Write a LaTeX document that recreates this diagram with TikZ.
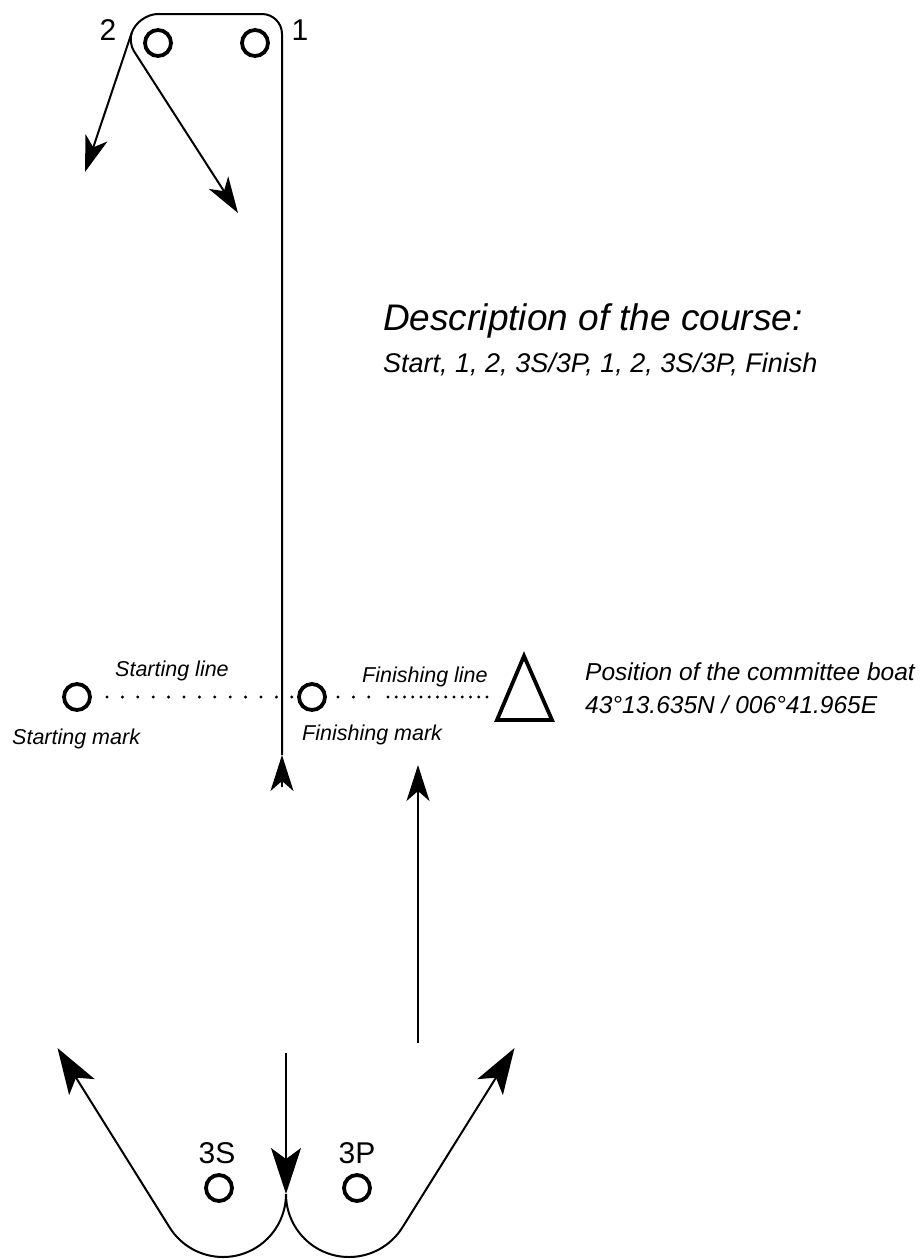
\documentclass[tikz,border=0pt]{standalone}
\usepackage{fontspec}
\setmainfont{Liberation Sans}
\usepackage{tikz}
\usetikzlibrary{arrows.meta}
\tikzstyle{buoy} = [draw, circle, line width=3.8pt, minimum size=26pt, inner sep=0pt]
\tikzstyle{courseLine} = [line width=2pt]
\tikzstyle{smallArrow} = [-{Stealth[length=36pt,width=23pt,inset=10pt]}]
\tikzstyle{bigArrow} = [-{Stealth[length=46pt,width=30pt,inset=11pt]}]
\tikzstyle{markNumber} = [inner sep=0pt, anchor=base, font=\fontsize{30}{36}\selectfont]
\tikzstyle{noteText} = [inner sep=0pt, anchor=base west, font=\fontsize{21.5}{26}\selectfont\itshape]
\tikzstyle{boatText} = [noteText, font=\fontsize{24.5}{29}\selectfont\itshape]
\tikzstyle{lineDots} = [line width=3.3pt, line cap=round, dash pattern=on 0pt off 15.4pt]
\tikzstyle{denseDots} = [line width=3.3pt, line cap=round, dash pattern=on 0pt off 8.25pt]

\begin{document}
\begin{tikzpicture}[x=1pt,y=1pt]
    \useasboundingbox (0,0) rectangle (922,-1259);
    % marks
    \node[buoy] (mark2) at (158,-43) {};
    \node[buoy] (mark1) at (255,-43) {};
    \node[buoy] (startmark) at (77,-697) {};
    \node[buoy] (finishmark) at (312,-697) {};
    \node[buoy] (markS) at (219,-1188) {};
    \node[buoy] (markP) at (357,-1188) {};
    \node[markNumber] (num2) at (108,-40) {2};
    \node[markNumber] (num1) at (300,-40) {1};
    \node[markNumber] (numS) at (217,-1163) {3S};
    \node[markNumber] (numP) at (357,-1163) {3P};
    % texts
    \node[noteText, font=\fontsize{37}{44}\selectfont\itshape] (title) at (383,-330) {Description of the course:};
    \node[noteText, font=\fontsize{27}{32}\selectfont\itshape] (course) at (383,-372) {Start, 1, 2, 3S/3P, 1, 2, 3S/3P, Finish};
    \node[noteText] (startline) at (115,-676) {Starting line};
    \node[noteText] (startlabel) at (12,-744) {Starting mark};
    \node[noteText] (finishline) at (362,-682) {Finishing line};
    \node[noteText] (finishlabel) at (302,-740) {Finishing mark};
    \node[boatText] (boatpos) at (585,-680) {Position of the committee boat};
    \node[boatText] (boatgps) at (585,-713) {43°13.635N / 006°41.965E};
    % committee boat
    \coordinate (boatTop) at (524,-656);
    \coordinate (boatLeft) at (497,-720);
    \coordinate (boatRight) at (552,-720);
    \draw[line width=3.8pt] (boatTop) -- (boatRight) -- (boatLeft) -- cycle;
    % start and finish lines
    \coordinate (finA) at (388,-697);
    \coordinate (finB) at (487.5,-697);
    \draw[lineDots, shorten <=15.1pt, shorten >=4.6pt] (startmark) -- (finishmark);
    \draw[lineDots, shorten <=11.1pt, shorten >=18.5pt] (finishmark) -- (finA);
    \draw[denseDots] (finA) -- (finB);
    % upwind legs
    \coordinate (startEnd) at (282,-787);
    \coordinate (startTip) at (282,-755);
    \coordinate (cornerR) at (282,-14);
    \coordinate (cornerL) at (138,-14);
    \coordinate (tipA) at (85,-172);
    \coordinate (leave2) at (131.6,-33);
    \coordinate (kink2) at (128.4,-42.5);
    \coordinate (tipB) at (238,-213);
    \draw[courseLine, smallArrow, rounded corners=20pt] (startTip) -- (cornerR) -- (cornerL) -- (tipA);
    \draw[courseLine, smallArrow, rounded corners=10pt] (leave2) -- (kink2) -- (tipB);
    \draw[courseLine, smallArrow] (startEnd) -- (startTip);
    % gate 3S/3P and finish
    \coordinate (downTop) at (286,-1053);
    \coordinate (meet) at (286,-1194);
    \coordinate (tipL) at (57.5,-1048);
    \coordinate (tipR) at (514.5,-1048);
    \coordinate (finFoot) at (418,-1043);
    \coordinate (finTip) at (418,-765);
    \draw[courseLine, bigArrow] (downTop) -- (meet);
    \draw[courseLine, bigArrow] (meet) arc[start angle=0, end angle=-148, radius=63] -- (tipL);
    \draw[courseLine, bigArrow] (meet) arc[start angle=180, end angle=328, radius=63] -- (tipR);
    \draw[courseLine, smallArrow] (finFoot) -- (finTip);
\end{tikzpicture}
\end{document}
